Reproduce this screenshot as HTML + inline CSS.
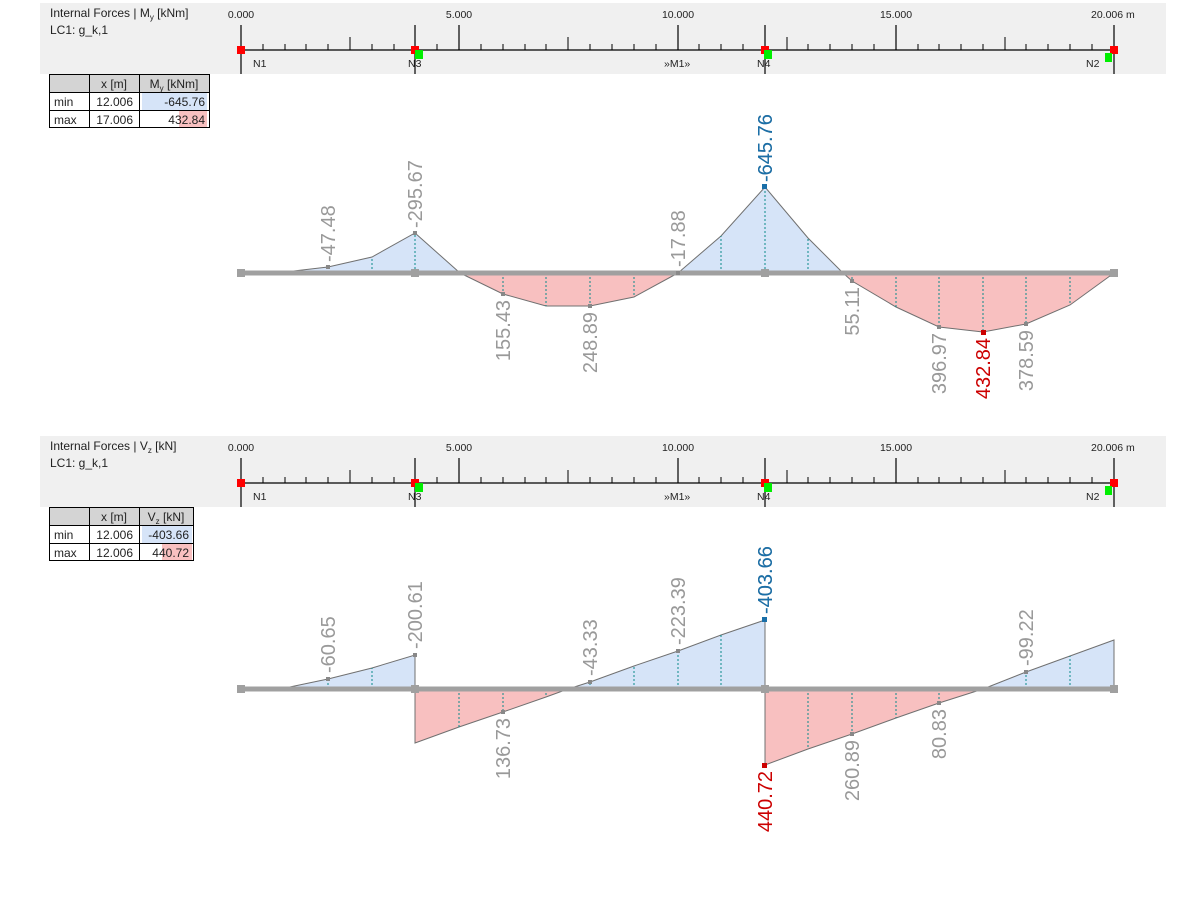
<!DOCTYPE html>
<html><head><meta charset="utf-8"><style>
body{margin:0;background:#fff;}
svg{display:block;font-family:"Liberation Sans",sans-serif;}
.h{font-size:12px;fill:#222}
.r{font-size:10.5px;fill:#222}
.lb{font-size:20px;fill:#999}
.t{font-size:12px;fill:#222}
</style></head><body>
<svg width="1200" height="900" viewBox="0 0 1200 900">
<defs>
<g id="ruler">
<rect x="40" y="3" width="1126" height="71" fill="#f0f0f0"/>
<line x1="241" y1="50" x2="1114" y2="50" stroke="#000" stroke-width="1.3"/>
<path d="M241 25V74M459 25V50M678 25V50M896 25V50M415 25V74M765 25V74M1114 25V74" stroke="#000" stroke-width="1.2"/>
<path d="M350 37V50M568 37V50M787 37V50M1005 37V50" stroke="#000"/>
<path d="M263 44V50M285 44V50M306 44V50M328 44V50M350 44V50M372 44V50M394 44V50M437 44V50M481 44V50M503 44V50M525 44V50M546 44V50M590 44V50M612 44V50M634 44V50M656 44V50M699 44V50M721 44V50M743 44V50M808 44V50M830 44V50M852 44V50M874 44V50M918 44V50M939 44V50M961 44V50M983 44V50M1026 44V50M1048 44V50M1070 44V50M1092 44V50" stroke="#000"/>
<rect x="237" y="46" width="8" height="8" fill="#f00"/>
<rect x="411" y="46" width="8" height="8" fill="#f00"/>
<rect x="761" y="46" width="8" height="8" fill="#f00"/>
<rect x="1110" y="46" width="8" height="8" fill="#f00"/>
<rect x="415" y="50" width="8" height="9" fill="#0e0"/>
<rect x="764" y="50" width="8" height="9" fill="#0e0"/>
<rect x="1105" y="53" width="7" height="9" fill="#0e0"/>
<text class="r" x="241" y="18" text-anchor="middle">0.000</text>
<text class="r" x="459" y="18" text-anchor="middle">5.000</text>
<text class="r" x="678" y="18" text-anchor="middle">10.000</text>
<text class="r" x="896" y="18" text-anchor="middle">15.000</text>
<text class="r" x="1091" y="18">20.006 m</text>
<text class="r" x="253" y="67">N1</text>
<text class="r" x="408" y="67">N3</text>
<text class="r" x="664" y="67">»M1»</text>
<text class="r" x="757" y="67">N4</text>
<text class="r" x="1086" y="67">N2</text>
</g>
</defs>

<!-- Moment -->
<use href="#ruler"/>
<text class="h" x="50" y="17">Internal Forces | M<tspan font-size="8" dy="3">y</tspan><tspan dy="-3"> [kNm]</tspan></text>
<text class="h" x="50" y="34">LC1: g_k,1</text>
<rect x="49" y="74" width="161" height="18" fill="#d4d4d4"/>
<rect x="142" y="93" width="65" height="17" fill="#d6e4f8"/>
<rect x="179" y="111" width="28" height="17" fill="#f8c0c0"/>
<path d="M49.5 74.5H209.5V127.5H49.5ZM49.5 92.5H209.5M49.5 110.5H209.5M89.5 74.5V127.5M139.5 74.5V127.5" fill="none" stroke="#000"/>
<text class="t" x="114" y="88" text-anchor="middle">x [m]</text>
<text class="t" x="174" y="88" text-anchor="middle">M<tspan font-size="8" dy="3">y</tspan><tspan dy="-3"> [kNm]</tspan></text>
<text class="t" x="54" y="106">min</text><text class="t" x="54" y="124">max</text>
<text class="t" x="133" y="106" text-anchor="end">12.006</text><text class="t" x="133" y="124" text-anchor="end">17.006</text>
<text class="t" x="205" y="106" text-anchor="end">-645.76</text><text class="t" x="205" y="124" text-anchor="end">432.84</text>

<g stroke="#707070" stroke-width="1">
<polygon points="241,273 285,272 328,267 372,257 415,233 460,273" fill="#d6e4f8"/>
<polygon points="460,273 503,294 546,306 590,306 634,297 678,273" fill="#f8c0c0"/>
<polygon points="678,273 721,236 765,187 808,238 843,273" fill="#d6e4f8"/>
<polygon points="843,273 852,281 896,307 939,327 983,332 1026,324 1070,305 1114,273" fill="#f8c0c0"/>
</g>
<path d="M328 273V267M372 273V257M415 273V233M503 273V294M546 273V306M590 273V306M634 273V297M721 273V236M765 273V187M808 273V238M852 273V281M896 273V307M939 273V327M983 273V332M1026 273V324M1070 273V305" stroke="#0a8a8a" stroke-dasharray="2,2"/>
<line x1="241" y1="273" x2="1114" y2="273" stroke="#a0a0a0" stroke-width="5"/>
<g fill="#a0a0a0"><rect x="237" y="269" width="8" height="8"/><rect x="411" y="269" width="8" height="8"/><rect x="761" y="269" width="8" height="8"/><rect x="1110" y="269" width="8" height="8"/></g>
<g fill="#888"><rect x="326" y="265" width="4" height="4"/><rect x="413" y="231" width="4" height="4"/><rect x="501" y="292" width="4" height="4"/><rect x="588" y="304" width="4" height="4"/><rect x="676" y="271" width="4" height="4"/><rect x="850" y="279" width="4" height="4"/><rect x="937" y="325" width="4" height="4"/><rect x="1024" y="322" width="4" height="4"/></g>
<rect x="762" y="184" width="5" height="5" fill="#1a6fa8"/>
<rect x="981" y="330" width="5" height="5" fill="#c00"/>
<g class="lb">
<text class="lb" transform="translate(335,262) rotate(-90)">-47.48</text>
<text class="lb" transform="translate(422,228) rotate(-90)">-295.67</text>
<text class="lb" transform="translate(510,300) rotate(-90)" text-anchor="end">155.43</text>
<text class="lb" transform="translate(597,312) rotate(-90)" text-anchor="end">248.89</text>
<text class="lb" transform="translate(685,267) rotate(-90)">-17.88</text>
<text class="lb" transform="translate(772,182) rotate(-90)">-645.76</text>
<text class="lb" transform="translate(772,182) rotate(-90)" style="fill:#1a6fa8">-645.76</text>
<text class="lb" transform="translate(859,287) rotate(-90)" text-anchor="end">55.11</text>
<text class="lb" transform="translate(946,333) rotate(-90)" text-anchor="end">396.97</text>
<text class="lb" transform="translate(990,338) rotate(-90)" text-anchor="end" style="fill:#c00">432.84</text>
<text class="lb" transform="translate(1033,330) rotate(-90)" text-anchor="end">378.59</text>
</g>

<!-- Shear -->
<g transform="translate(0,433)"><use href="#ruler"/></g>
<text class="h" x="50" y="450">Internal Forces | V<tspan font-size="8" dy="3">z</tspan><tspan dy="-3"> [kN]</tspan></text>
<text class="h" x="50" y="467">LC1: g_k,1</text>
<rect x="49" y="507" width="145" height="18" fill="#d4d4d4"/>
<rect x="142" y="526" width="50" height="17" fill="#d6e4f8"/>
<rect x="162" y="544" width="30" height="17" fill="#f8c0c0"/>
<path d="M49.5 507.5H193.5V560.5H49.5ZM49.5 525.5H193.5M49.5 543.5H193.5M89.5 507.5V560.5M139.5 507.5V560.5" fill="none" stroke="#000"/>
<text class="t" x="114" y="521" text-anchor="middle">x [m]</text>
<text class="t" x="166" y="521" text-anchor="middle">V<tspan font-size="8" dy="3">z</tspan><tspan dy="-3"> [kN]</tspan></text>
<text class="t" x="54" y="539">min</text><text class="t" x="54" y="557">max</text>
<text class="t" x="133" y="539" text-anchor="end">12.006</text><text class="t" x="133" y="557" text-anchor="end">12.006</text>
<text class="t" x="189" y="539" text-anchor="end">-403.66</text><text class="t" x="189" y="557" text-anchor="end">440.72</text>

<g stroke="#707070" stroke-width="1">
<polygon points="241,689 285,688 328,679 372,668 415,655 415,689" fill="#d6e4f8"/>
<polygon points="415,689 415,743 459,727 503,712 546,697 568,689" fill="#f8c0c0"/>
<polygon points="568,689 590,682 634,666 678,651 721,635 765,620 765,689" fill="#d6e4f8"/>
<polygon points="765,689 765,765 808,749 852,734 896,718 939,703 983,689" fill="#f8c0c0"/>
<polygon points="983,689 1026,672 1070,656 1114,640 1114,689" fill="#d6e4f8"/>
</g>
<path d="M328 689V679M372 689V668M459 689V727M503 689V712M546 689V697M590 689V682M634 689V666M678 689V651M721 689V635M808 689V749M852 689V734M896 689V718M939 689V703M1026 689V672M1070 689V656" stroke="#0a8a8a" stroke-dasharray="2,2"/>
<line x1="241" y1="689" x2="1114" y2="689" stroke="#a0a0a0" stroke-width="5"/>
<g fill="#a0a0a0"><rect x="237" y="685" width="8" height="8"/><rect x="411" y="685" width="8" height="8"/><rect x="761" y="685" width="8" height="8"/><rect x="1110" y="685" width="8" height="8"/></g>
<g fill="#888"><rect x="326" y="677" width="4" height="4"/><rect x="413" y="653" width="4" height="4"/><rect x="501" y="710" width="4" height="4"/><rect x="588" y="680" width="4" height="4"/><rect x="676" y="649" width="4" height="4"/><rect x="850" y="732" width="4" height="4"/><rect x="937" y="701" width="4" height="4"/><rect x="1024" y="670" width="4" height="4"/></g>
<rect x="762" y="617" width="5" height="5" fill="#1a6fa8"/>
<rect x="762" y="763" width="5" height="5" fill="#c00"/>
<g>
<text class="lb" transform="translate(335,673) rotate(-90)">-60.65</text>
<text class="lb" transform="translate(422,649) rotate(-90)">-200.61</text>
<text class="lb" transform="translate(510,718) rotate(-90)" text-anchor="end">136.73</text>
<text class="lb" transform="translate(597,676) rotate(-90)">-43.33</text>
<text class="lb" transform="translate(685,645) rotate(-90)">-223.39</text>
<text class="lb" transform="translate(772,614) rotate(-90)">-403.66</text>
<text class="lb" transform="translate(772,614) rotate(-90)" style="fill:#1a6fa8">-403.66</text>
<text class="lb" transform="translate(772,771) rotate(-90)" text-anchor="end" style="fill:#c00">440.72</text>
<text class="lb" transform="translate(859,740) rotate(-90)" text-anchor="end">260.89</text>
<text class="lb" transform="translate(946,709) rotate(-90)" text-anchor="end">80.83</text>
<text class="lb" transform="translate(1033,666) rotate(-90)">-99.22</text>
</g>
</svg>
</body></html>
